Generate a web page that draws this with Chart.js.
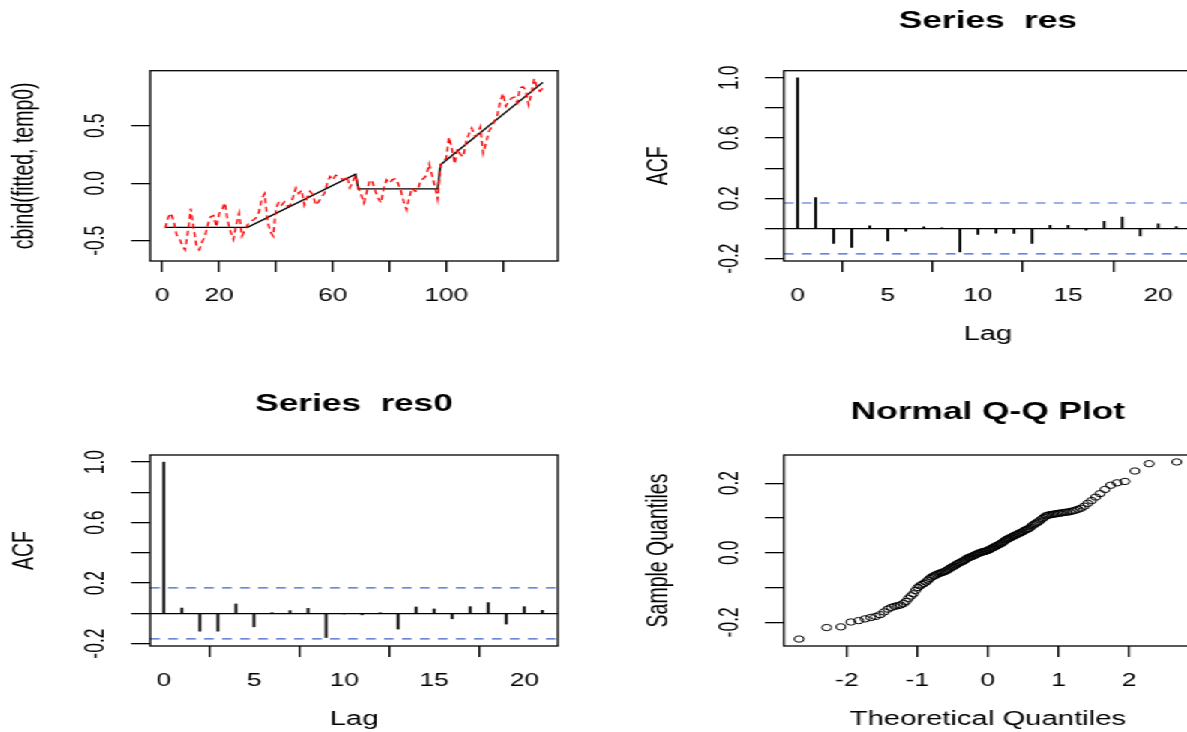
<!DOCTYPE html>
<html>
<head>
<meta charset="utf-8">
<script src="https://cdn.jsdelivr.net/npm/chart.js@4.4.1/dist/chart.umd.min.js"></script>
<style>
  html, body { margin: 0; padding: 0; background: #fff; overflow: hidden; width: 1187px; height: 732px; }
  /* the reference is an R plot stretched sideways, so the whole page is drawn narrow and scaled */
  #page { position: absolute; left: 0; top: 0; width: 800px; height: 732px; transform: scaleX(1.5); transform-origin: 0 0; }
  #page canvas { position: absolute; }
</style>
</head>
<body>
<div id="page">
  <canvas id="fitPlot" width="396" height="366" style="left:0;top:0"></canvas>
  <canvas id="acfRes" width="404" height="366" style="left:396px;top:0"></canvas>
  <canvas id="acfRes0" width="396" height="366" style="left:0;top:366px"></canvas>
  <canvas id="qqPlot" width="404" height="366" style="left:396px;top:366px"></canvas>
</div>
<script>
// ---- data ----
const temp0 = [
  -0.39, -0.30, -0.26, -0.33, -0.45, -0.48, -0.54, -0.58, -0.42, -0.22,
  -0.39, -0.55, -0.58, -0.51, -0.46, -0.36, -0.29, -0.28, -0.38, -0.26,
  -0.23, -0.17, -0.33, -0.42, -0.49, -0.36, -0.26, -0.46, -0.41, -0.36,
  -0.33, -0.32, -0.30, -0.25, -0.13, -0.09, -0.33, -0.42, -0.46, -0.22,
  -0.16, -0.19, -0.16, -0.20, -0.19, -0.12, -0.04, -0.09, -0.06, -0.19,
  -0.12, -0.07, -0.10, -0.19, -0.16, -0.12, -0.09, 0.00, 0.06, 0.03,
  0.07, 0.06, 0.04, 0.03, 0.06, -0.04, 0.01, 0.07, -0.04, -0.10,
  -0.17, -0.07, 0.03, 0.01, -0.07, -0.13, -0.17, -0.04, 0.03, 0.00,
  0.03, 0.04, 0.00, -0.06, -0.16, -0.23, -0.12, -0.04, -0.07, -0.06,
  0.03, 0.04, 0.07, 0.17, 0.07, -0.03, -0.14, 0.16, 0.19, 0.22,
  0.40, 0.30, 0.17, 0.30, 0.25, 0.23, 0.36, 0.43, 0.48, 0.41,
  0.42, 0.49, 0.26, 0.35, 0.45, 0.49, 0.54, 0.59, 0.71, 0.78,
  0.67, 0.71, 0.74, 0.75, 0.70, 0.83, 0.84, 0.81, 0.68, 0.78,
  0.91, 0.83, 0.80, 0.83
];
// fitted series: piecewise line, its corners
const fitTime = [1, 30, 68, 69, 97, 98, 134];
const fitValue = [-0.383, -0.383, 0.078, -0.049, -0.049, 0.160, 0.878];

const lags = [0, 1, 2, 3, 4, 5, 6, 7, 8, 9, 10, 11, 12, 13, 14, 15, 16, 17, 18, 19, 20, 21];
const acfRes = [1.0, 0.205, -0.100, -0.126, 0.018, -0.082, -0.018, 0.011, 0.003, -0.155, -0.040,
  -0.031, -0.033, -0.100, 0.020, 0.020, -0.011, 0.048, 0.075, -0.049, 0.031, 0.013];
const acfRes0 = [1.0, 0.035, -0.118, -0.118, 0.062, -0.089, 0.002, 0.018, 0.033, -0.160, -0.003,
  -0.010, 0.002, -0.104, 0.042, 0.029, -0.036, 0.044, 0.071, -0.071, 0.044, 0.020];
const ciLimit = 0.169;

const qqTheoretical = [
  -2.675, -2.284, -2.083, -1.941, -1.830, -1.739, -1.659, -1.590, -1.527, -1.469,
  -1.416, -1.367, -1.320, -1.277, -1.236, -1.197, -1.160, -1.124, -1.089, -1.056,
  -1.024, -0.993, -0.963, -0.933, -0.905, -0.876, -0.849, -0.823, -0.797, -0.772,
  -0.746, -0.722, -0.698, -0.674, -0.651, -0.628, -0.605, -0.583, -0.561, -0.539,
  -0.518, -0.497, -0.476, -0.455, -0.434, -0.414, -0.393, -0.373, -0.353, -0.334,
  -0.314, -0.294, -0.275, -0.256, -0.236, -0.217, -0.198, -0.179, -0.160, -0.141,
  -0.122, -0.103, -0.084, -0.066, -0.047, -0.028, -0.009,
  0.009, 0.028, 0.047, 0.066, 0.084, 0.103, 0.122, 0.141, 0.160, 0.179,
  0.198, 0.217, 0.236, 0.256, 0.275, 0.294, 0.314, 0.334, 0.353, 0.373,
  0.393, 0.414, 0.434, 0.455, 0.476, 0.497, 0.518, 0.539, 0.561, 0.583,
  0.605, 0.628, 0.651, 0.674, 0.698, 0.722, 0.746, 0.772, 0.797, 0.823,
  0.849, 0.876, 0.905, 0.933, 0.963, 0.993, 1.024, 1.056, 1.089, 1.124,
  1.160, 1.197, 1.236, 1.277, 1.320, 1.367, 1.416, 1.469, 1.527, 1.590,
  1.659, 1.739, 1.830, 1.941, 2.083, 2.284, 2.675
];
const qqSample = [
  -0.248, -0.215, -0.213, -0.199, -0.195, -0.190, -0.186, -0.183, -0.178, -0.170,
  -0.162, -0.157, -0.154, -0.152, -0.150, -0.146, -0.140, -0.131, -0.124, -0.118,
  -0.108, -0.100, -0.095, -0.091, -0.088, -0.084, -0.079, -0.074, -0.070, -0.067,
  -0.065, -0.062, -0.060, -0.058, -0.057, -0.055, -0.053, -0.051, -0.048, -0.045,
  -0.042, -0.040, -0.038, -0.035, -0.032, -0.030, -0.028, -0.026, -0.024, -0.022,
  -0.019, -0.016, -0.014, -0.013, -0.011, -0.010, -0.008, -0.006, -0.004, -0.002,
  -0.001, 0.001, 0.002, 0.003, 0.004, 0.005, 0.006,
  0.008, 0.010, 0.012, 0.014, 0.016, 0.018, 0.020, 0.022, 0.024, 0.026,
  0.028, 0.031, 0.034, 0.037, 0.039, 0.041, 0.043, 0.045, 0.047, 0.049,
  0.051, 0.053, 0.055, 0.057, 0.059, 0.061, 0.064, 0.066, 0.068, 0.070,
  0.074, 0.078, 0.081, 0.084, 0.087, 0.090, 0.094, 0.098, 0.102, 0.106,
  0.108, 0.109, 0.110, 0.111, 0.112, 0.113, 0.114, 0.115, 0.116, 0.117,
  0.118, 0.120, 0.122, 0.125, 0.128, 0.134, 0.142, 0.150, 0.160, 0.170,
  0.182, 0.194, 0.201, 0.205, 0.235, 0.256, 0.261
];

// ticks and their labels (R drops labels that would collide)
const timeTicks = [0, 20, 40, 60, 80, 100, 120];
const timeTickLabels = ['0', '20', '', '60', '', '100', ''];
const fitYTicks = [-0.5, 0, 0.5];
const fitYTickLabels = ['-0.5', '0.0', '0.5'];
const lagTicks = [0, 5, 10, 15, 20];
const lagTickLabels = ['0', '5', '10', '15', '20'];
const acfYTicks = [-0.2, 0, 0.2, 0.4, 0.6, 0.8, 1.0];
const acfYTickLabels = ['-0.2', '', '0.2', '', '0.6', '', '1.0'];
const qqXTicks = [-2, -1, 0, 1, 2];
const qqXTickLabels = ['-2', '-1', '0', '1', '2'];
const qqYTicks = [-0.2, -0.1, 0, 0.1, 0.2];
const qqYTickLabels = ['-0.2', '', '0.0', '', '0.2'];

// ---- styling ----
Chart.defaults.font.family = '"Liberation Sans", Arial, sans-serif';
Chart.defaults.color = '#000';
Chart.defaults.animation = false;

const LABEL_SIZE = 19.5;
const X_AXIS_H = 74 + LABEL_SIZE / 2;
const Y_AXIS_W = 83 + LABEL_SIZE / 2;
const BLUE = '#3f5fd0';

const boxPlugin = {
  id: 'box',
  afterDatasetsDraw(chart) {
    const { ctx, chartArea: a } = chart;
    ctx.save();
    ctx.strokeStyle = '#000';
    ctx.lineWidth = 1.3;
    ctx.strokeRect(a.left, a.top, a.right - a.left, a.bottom - a.top);
    ctx.restore();
  },
};

function axisX(min, max, ticks, labels, title) {
  return {
    type: 'linear', position: 'bottom', min, max, bounds: 'data', offset: false,
    afterBuildTicks: (s) => { s.ticks = ticks.map((v) => ({ value: v })); },
    afterFit: (s) => { s.height = X_AXIS_H; },
    grid: { drawOnChartArea: false, drawTicks: true, tickLength: 11, color: '#000', lineWidth: 1.3 },
    border: { display: false },
    ticks: {
      autoSkip: false, minRotation: 0, maxRotation: 0, padding: 15.25,
      font: { size: 17.5, lineHeight: 1 },
      callback: (v, i) => labels[i],
    },
    title: { display: Boolean(title), text: title || '', font: { size: LABEL_SIZE, lineHeight: 1 }, padding: 0 },
  };
}

function axisY(min, max, ticks, labels, title, zeroLine) {
  return {
    type: 'linear', position: 'left', min, max, bounds: 'data',
    afterBuildTicks: (s) => { s.ticks = ticks.map((v) => ({ value: v })); },
    afterFit: (s) => { s.width = Y_AXIS_W; },
    grid: {
      drawOnChartArea: zeroLine, drawTicks: true, tickLength: 12.7, lineWidth: 1.3,
      color: (c) => (zeroLine && c.tick && c.tick.value === 0 ? '#000' : 'rgba(0,0,0,0)'),
      tickColor: '#000',
    },
    border: { display: false },
    ticks: {
      autoSkip: false, minRotation: 90, maxRotation: 90, crossAlign: 'center', padding: 7.7,
      font: { size: 17.5, lineHeight: 1 },
      callback: (v, i) => labels[i],
    },
    title: { display: true, text: title, font: { size: LABEL_SIZE, lineHeight: 1 }, padding: 0 },
  };
}

function plotTitle(text, top, bottom) {
  return {
    display: Boolean(text), text, fullSize: false, color: '#000',
    font: { size: 23.5, weight: 'bold', lineHeight: 1 },
    padding: { top, bottom },
  };
}

// padding that puts the plot box where R put it (canvas-local px)
function boxPadding(boxLeft, boxRight, boxBottom, canvasW, top) {
  return { left: boxLeft - Y_AXIS_W, right: canvasW - boxRight, top, bottom: 366 - boxBottom - X_AXIS_H };
}

const basePlugins = { legend: { display: false }, tooltip: { enabled: false } };

// ---- top left: fitted vs temp0 ----
new Chart(document.getElementById('fitPlot'), {
  type: 'line',
  data: {
    datasets: [
      {
        data: temp0.map((v, i) => ({ x: i + 1, y: v })),
        borderColor: '#ff0000', borderWidth: 1.3, borderDash: [5, 3.5], pointRadius: 0, tension: 0,
      },
      {
        data: fitTime.map((t, i) => ({ x: t, y: fitValue[i] })),
        borderColor: '#000', borderWidth: 1.3, pointRadius: 0, tension: 0,
      },
    ],
  },
  options: {
    responsive: false,
    layout: { padding: boxPadding(100, 372, 261, 396, 70.7) },
    plugins: { ...basePlugins, title: { display: false } },
    scales: {
      x: axisX(-4.3, 139.3, timeTicks, timeTickLabels, ''),
      y: axisY(-0.676, 0.979, fitYTicks, fitYTickLabels, 'cbind(fitted, temp0)', false),
    },
  },
  plugins: [boxPlugin],
});

// ---- ACF panels ----
function acfChart(id, title, values, padding, titlePad) {
  const xMin = -0.76, xMax = 21.86;
  return new Chart(document.getElementById(id), {
    type: 'bar',
    data: {
      datasets: [
        {
          type: 'bar', data: lags.map((l, i) => ({ x: l, y: values[i] })),
          backgroundColor: '#000', borderWidth: 0, barThickness: 1.2,
        },
        {
          type: 'line', data: [{ x: xMin, y: ciLimit }, { x: xMax, y: ciLimit }],
          borderColor: BLUE, borderWidth: 1.2, borderDash: [6.5, 5.5], pointRadius: 0,
        },
        {
          type: 'line', data: [{ x: xMin, y: -ciLimit }, { x: xMax, y: -ciLimit }],
          borderColor: BLUE, borderWidth: 1.2, borderDash: [6.5, 5.5], pointRadius: 0,
        },
      ],
    },
    options: {
      responsive: false,
      layout: { padding },
      plugins: { ...basePlugins, title: plotTitle(title, titlePad[0], titlePad[1]) },
      scales: {
        x: axisX(xMin, xMax, lagTicks, lagTickLabels, 'Lag'),
        y: axisY(-0.216, 1.047, acfYTicks, acfYTickLabels, 'ACF', true),
      },
    },
    plugins: [boxPlugin],
  });
}

acfChart('acfRes', 'Series  res', acfRes, boxPadding(126.7, 398.7, 261, 404, 0), [9.95, 37.25]);
acfChart('acfRes0', 'Series  res0', acfRes0, boxPadding(100, 372, 280, 396, 0), [27.25, 38.25]);

// ---- bottom right: normal Q-Q ----
new Chart(document.getElementById('qqPlot'), {
  type: 'scatter',
  data: {
    datasets: [{
      data: qqTheoretical.map((x, i) => ({ x, y: qqSample[i] })),
      pointStyle: 'circle', pointRadius: 3.2, borderWidth: 1,
      borderColor: '#000', backgroundColor: 'rgba(0,0,0,0)',
    }],
  },
  options: {
    responsive: false,
    layout: { padding: boxPadding(126.7, 398.7, 280, 404, 0) },
    plugins: { ...basePlugins, title: plotTitle('Normal Q-Q Plot', 35.25, 30.25) },
    scales: {
      x: axisX(-2.89, 2.89, qqXTicks, qqXTickLabels, 'Theoretical Quantiles'),
      y: axisY(-0.268, 0.281, qqYTicks, qqYTickLabels, 'Sample Quantiles', false),
    },
  },
  plugins: [boxPlugin],
});
</script>
</body>
</html>
